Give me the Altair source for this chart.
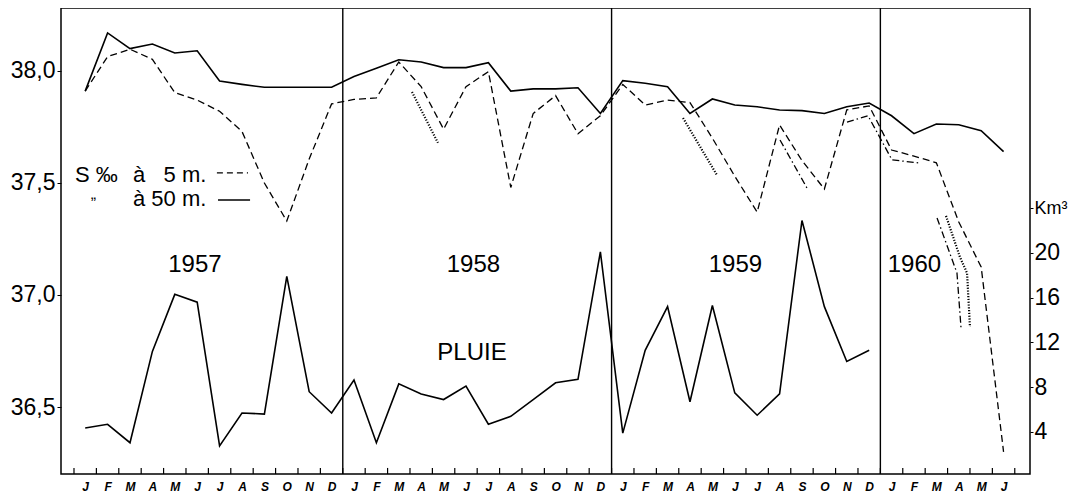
import json
import altair as alt
import pandas as pd

# ---------------- data ----------------
months = ["J", "F", "M", "A", "M", "J", "J", "A", "S", "O", "N", "D"]
year_labels = ["1957", "1958", "1959", "1960"]
year_label_t = [5.40, 17.83, 29.53, 37.52]
year_label_v = [37.103, 37.103, 37.103, 37.103]

# Salinity at 50 m (solid), Jan 1957 .. Jun 1960
s50 = [37.91, 38.17, 38.10, 38.12, 38.08, 38.09, 37.955, 37.94, 37.927, 37.927, 37.927, 37.927,
       37.975, 38.012, 38.05, 38.04, 38.015, 38.015, 38.037, 37.91, 37.92, 37.92, 37.925, 37.81,
       37.957, 37.945, 37.93, 37.81, 37.875, 37.848, 37.84, 37.826, 37.823, 37.81, 37.84, 37.857,
       37.80, 37.72, 37.763, 37.76, 37.733, 37.64]

# Salinity at 5 m (dashed), Jan 1957 .. Jun 1960
s5 = [37.91, 38.064, 38.097, 38.052, 37.903, 37.87, 37.82, 37.73, 37.50, 37.33, 37.607, 37.853,
      37.873, 37.88, 38.04, 37.93, 37.74, 37.93, 37.997, 37.48, 37.81, 37.89, 37.72, 37.80,
      37.94, 37.848, 37.87, 37.859, 37.70, 37.53, 37.37, 37.759, 37.60, 37.473, 37.826, 37.844,
      37.647, 37.62, 37.59, 37.326, 37.125, 36.30]

# Rain (PLUIE), km3, Jan 1957 .. Dec 1959
rain = [4.36, 4.69, 3.04, 11.2, 16.3, 15.6, 2.75, 5.7, 5.6, 17.9, 7.6, 5.7,
        8.65, 3.04, 8.3, 7.4, 6.9, 8.1, 4.7, 5.4, 6.9, 8.4, 8.7, 20.1,
        3.9, 11.3, 15.2, 6.7, 15.3, 7.5, 5.5, 7.4, 22.9, 15.2, 10.3, 11.3]

# Dotted segments (month position, salinity, segment id)
dot_t = [15.09, 16.25, 27.19, 28.70, 38.93, 39.55, 39.87, 40.00]
dot_v = [37.906, 37.679, 37.79, 37.536, 37.353, 37.17, 37.098, 36.857]
dot_seg = [1, 1, 2, 2, 3, 3, 3, 3]

# Dash-dot segments
dd_t = [31.52, 32.72, 34.51, 35.45, 36.52, 37.77, 38.53, 39.42, 39.60]
dd_v = [37.692, 37.478, 37.772, 37.80, 37.603, 37.589, 37.344, 37.098, 36.853]
dd_seg = [1, 1, 2, 2, 2, 2, 3, 3, 3]

# Legend (key) items
key_text = ["S \u2030", "\u00e0 \u20075 m.", "\u00e0 50 m."]
key_t = [0.045, 2.634, 2.634]
key_v = [37.506, 37.506, 37.395]
ditto_text = ["\u201e"]
ditto_t = [0.75]
ditto_v = [37.45]
key_dash_t = [6.38, 7.77]
key_dash_v = [37.545, 37.545]
key_solid_t = [6.43, 7.86]
key_solid_v = [37.424, 37.424]

pluie_text = ["PLUIE"]
pluie_t = [17.77]
pluie_v = [36.71]

year_bounds = [12, 24, 36]
month_bounds = list(range(0, 43))

# ---------------- frames ----------------
n = len(s50)
df_main = pd.DataFrame({"t": [i + 0.5 for i in range(n)], "s50": s50, "s5": s5})
df_rain = pd.DataFrame({"t": [i + 0.5 for i in range(len(rain))], "r": rain})
df_dot = pd.DataFrame({"t": dot_t, "v": dot_v, "seg": dot_seg})
df_dd = pd.DataFrame({"t": dd_t, "v": dd_v, "seg": dd_seg})
df_years = pd.DataFrame({"t": year_label_t, "v": year_label_v, "label": year_labels})
df_key = pd.DataFrame({"t": key_t, "v": key_v, "label": key_text})
df_ditto = pd.DataFrame({"t": ditto_t, "v": ditto_v, "label": ditto_text})
df_key_dash = pd.DataFrame({"t": key_dash_t, "v": key_dash_v})
df_key_solid = pd.DataFrame({"t": key_solid_t, "v": key_solid_v})
df_pluie = pd.DataFrame({"t": pluie_t, "v": pluie_v, "label": pluie_text})
df_yb = pd.DataFrame({"t": year_bounds})

Y_MIN, Y_MAX = 36.201, 38.281
df_mb = pd.DataFrame({"t": month_bounds, "y": [Y_MIN] * len(month_bounds),
                      "y2": [Y_MIN + 0.027] * len(month_bounds)})

FONT = "Liberation Sans"
label_expr = json.dumps(months) + "[floor(datum.value) % 12]"

X = alt.X("t:Q",
          scale=alt.Scale(domain=[-0.58, 42.68], nice=False, zero=False),
          axis=alt.Axis(values=[i + 0.5 for i in range(n)], labelExpr=label_expr,
                        tickSize=0, labelPadding=7, labelFontSize=12,
                        labelFontStyle="italic", labelFontWeight="bold",
                        title=None, grid=False, domain=False, labelFont=FONT))

def Yleft(field):
    return alt.Y(f"{field}:Q",
                 scale=alt.Scale(domain=[Y_MIN, Y_MAX], nice=False, zero=False),
                 axis=alt.Axis(values=[36.5, 37.0, 37.5, 38.0],
                               labelExpr="replace(format(datum.value, '.1f'), '.', ',')",
                               labelFontSize=23, tickSize=4, labelPadding=2, title=None,
                               grid=False, domain=False, labelFont=FONT))

solid = alt.Chart(df_main).mark_line(color="black", strokeWidth=1.6).encode(x=X, y=Yleft("s50"))
dashed = alt.Chart(df_main).mark_line(color="black", strokeWidth=1.3, strokeDash=[7, 4]).encode(
    x=X, y=Yleft("s5"))
dotted = alt.Chart(df_dot).mark_line(color="black", strokeWidth=2.2, strokeDash=[1.2, 1.6]).encode(
    x=X, y=Yleft("v"), detail="seg:N")
dashdot = alt.Chart(df_dd).mark_line(color="black", strokeWidth=1.3, strokeDash=[7, 3, 1.5, 3]).encode(
    x=X, y=Yleft("v"), detail="seg:N")
key_dash = alt.Chart(df_key_dash).mark_line(color="black", strokeWidth=1.3, strokeDash=[6, 4]).encode(
    x=X, y=Yleft("v"))
key_solid = alt.Chart(df_key_solid).mark_line(color="black", strokeWidth=1.6).encode(
    x=X, y=Yleft("v"))
year_rules = alt.Chart(df_yb).mark_rule(color="black", strokeWidth=1.4).encode(x=X)
mtick = alt.Chart(df_mb).mark_rule(color="black", strokeWidth=1.2).encode(
    x=X, y=Yleft("y"), y2="y2:Q")
year_text = alt.Chart(df_years).mark_text(font=FONT, fontSize=24, align="center",
                                          baseline="alphabetic", color="black").encode(
    x=X, y=Yleft("v"), text="label:N")
pluie = alt.Chart(df_pluie).mark_text(font=FONT, fontSize=24, align="center",
                                      baseline="alphabetic", color="black").encode(
    x=X, y=Yleft("v"), text="label:N")
key_txt = alt.Chart(df_key).mark_text(font=FONT, fontSize=22, align="left",
                                      baseline="alphabetic", color="black").encode(
    x=X, y=Yleft("v"), text="label:N")
ditto = alt.Chart(df_ditto).mark_text(font=FONT, fontSize=16, align="left",
                                      baseline="middle", color="black").encode(
    x=X, y=Yleft("v"), text="label:N")

sal = alt.layer(solid, dashed, dotted, dashdot, key_dash, key_solid, year_rules, mtick,
                year_text, pluie, key_txt, ditto)

rain_line = alt.Chart(df_rain).mark_line(color="black", strokeWidth=1.6).encode(
    x=X,
    y=alt.Y("r:Q",
            scale=alt.Scale(domain=[0.246, 41.89], nice=False, zero=False),
            axis=alt.Axis(orient="right", values=[4, 8, 12, 16, 20, 24],
                          labelExpr="datum.value == 24 ? 'Km\u00b3' : datum.label",
                          labelFontSize={"condition": {"test": "datum.value == 24", "value": 18},
                                         "value": 23},
                          tickSize=3, labelPadding=1, title=None,
                          grid=False, domain=False, labelFont=FONT)))

chart = alt.layer(sal, rain_line).resolve_scale(y="independent").properties(
    width=969, height=466,
    autosize=alt.AutoSizeParams(type="none"),
    padding={"left": 53, "top": 0, "right": 38, "bottom": 20},
    background="white",
).configure_view(stroke="black", strokeWidth=1.5).configure_axis(
    labelColor="black", tickColor="black")

chart.save("out.html", embed_options={"renderer": "svg", "actions": False})
